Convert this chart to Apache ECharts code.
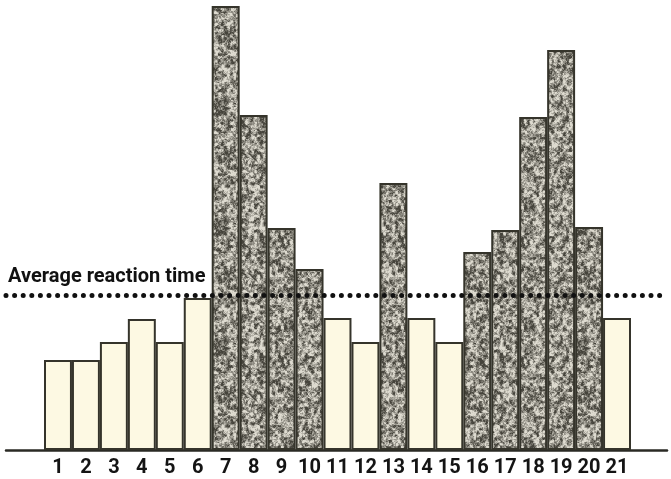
<!DOCTYPE html>
<html>
<head>
<meta charset="utf-8">
<script src="https://cdn.jsdelivr.net/npm/echarts@6/dist/echarts.min.js"></script>
<style>
html,body{margin:0;padding:0;background:#ffffff;}
#chart{width:671px;height:479px;}
</style>
</head>
<body>
<div id="chart"></div>
<script>
// Data (arbitrary height units)
const categories = ['1','2','3','4','5','6','7','8','9','10','11','12','13','14','15','16','17','18','19','20','21'];
const reactionTimes = [90, 90, 108, 131, 108, 152, 444, 335, 222, 181, 132, 108, 267, 132, 108, 198, 220, 333, 400, 223, 132];
const averageReactionTime = 155;
const averageLabel = 'Average reaction time';

// stippled texture (purely decorative, deterministic)
function makeStipple() {
  const size = 120;
  const c = document.createElement('canvas');
  c.width = size; c.height = size;
  const ctx = c.getContext('2d');
  const img = ctx.createImageData(size, size);
  function h(x, y) {
    x = ((x % size) + size) % size; y = ((y % size) + size) % size;
    const s = Math.sin(x * 12.9898 + y * 78.233) * 43758.5453;
    return s - Math.floor(s);
  }
  function vnoise(x, y, sc) {
    const n = Math.round(size / sc);
    const gx = Math.floor(x / sc), gy = Math.floor(y / sc);
    const fx = (x / sc) - gx, fy = (y / sc) - gy;
    const a = h((gx % n) * 7, (gy % n) * 7), b = h(((gx + 1) % n) * 7, (gy % n) * 7);
    const cc = h((gx % n) * 7, ((gy + 1) % n) * 7), d = h(((gx + 1) % n) * 7, ((gy + 1) % n) * 7);
    const ux = fx * fx * (3 - 2 * fx), uy = fy * fy * (3 - 2 * fy);
    return a + (b - a) * ux + (cc - a) * uy + (a - b - cc + d) * ux * uy;
  }
  for (let y = 0; y < size; y++) {
    for (let x = 0; x < size; x++) {
      const v = vnoise(x, y, 3) * 0.5 + vnoise(x + 1, y + 2, 1.5) * 0.3 + h(x, y) * 0.2;
      let t = (v - 0.28) / 0.42;
      t = Math.max(0, Math.min(1, t));
      const r = Math.round(70 + (222 - 70) * t);
      const g = Math.round(68 + (219 - 68) * t);
      const b = Math.round(60 + (208 - 60) * t);
      const i = (y * size + x) * 4;
      img.data[i] = r; img.data[i + 1] = g; img.data[i + 2] = b; img.data[i + 3] = 255;
    }
  }
  ctx.putImageData(img, 0, 0);
  return c;
}
const stipple = makeStipple();
const FONT = "Roboto, 'Liberation Sans', sans-serif";

const chart = echarts.init(document.getElementById('chart'), null, {renderer: 'canvas'});
const barData = reactionTimes.map(v => ({
  value: v,
  itemStyle: {
    color: v > averageReactionTime ? {image: stipple, repeat: 'repeat'} : '#fdf9e3'
  }
}));

const option = {
  animation: false,
  backgroundColor: '#ffffff',
  textStyle: {fontFamily: FONT},
  grid: [
    {left: 44, right: 40, top: 0, bottom: 29},
    {left: 6, right: 4, top: 0, bottom: 29}
  ],
  xAxis: [
    {
      type: 'category', gridIndex: 0, data: categories,
      axisLine: {show: false}, axisTick: {show: false},
      axisLabel: {
        interval: 0, margin: 8, color: '#141414', fontSize: 20, fontWeight: 'bold',
        fontFamily: FONT
      },
      splitLine: {show: false}
    },
    {
      type: 'value', gridIndex: 1, min: 0, max: 1,
      axisLine: {show: true, lineStyle: {color: '#2a2a24', width: 2.5}},
      axisTick: {show: false}, axisLabel: {show: false}, splitLine: {show: false}
    }
  ],
  yAxis: [
    {type: 'value', gridIndex: 0, min: 0, max: 450, show: false, splitLine: {show: false}},
    {type: 'value', gridIndex: 1, min: 0, max: 450, show: false, splitLine: {show: false}}
  ],
  series: [
    {
      type: 'bar', xAxisIndex: 0, yAxisIndex: 0,
      data: barData,
      barCategoryGap: '0%',
      itemStyle: {borderColor: '#35342b', borderWidth: 2},
      z: 2
    },
    {
      type: 'line', xAxisIndex: 1, yAxisIndex: 1,
      data: [],
      z: 5,
      markLine: {
        silent: true,
        symbol: 'none',
        lineStyle: {color: '#111111', width: 5, type: [0, 8.6], cap: 'round'},
        label: {
          show: true, position: 'insideStartTop', formatter: averageLabel,
          color: '#111111', fontSize: 20, fontWeight: 'bold', distance: [2, 8],
          fontFamily: FONT
        },
        data: [{yAxis: averageReactionTime}]
      }
    }
  ]
};
chart.setOption(option);
</script>
</body>
</html>
